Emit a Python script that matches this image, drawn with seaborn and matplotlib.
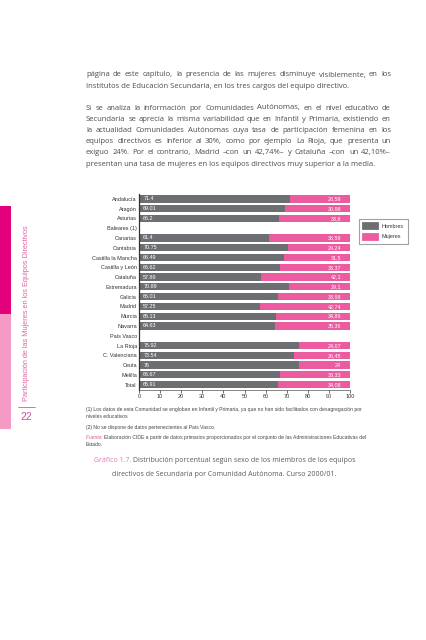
import matplotlib
matplotlib.use("Agg")
import matplotlib.pyplot as plt
from matplotlib.font_manager import FontProperties
from matplotlib.patches import Rectangle, Patch
from matplotlib.lines import Line2D
import seaborn as sns
import pandas as pd
import numpy as np

# ---------------- data ----------------
comunidades = ["Andalucía", "Aragón", "Asturias", "Baleares (1)", "Canarias", "Cantabria",
               "Castilla la Mancha", "Castilla y León", "Cataluña", "Extremadura", "Galicia",
               "Madrid", "Murcia", "Navarra", "País Vasco", "La Rioja", "C. Valenciana",
               "Ceuta", "Melilla", "Total"]
hombres = [71.4, 69.01, 66.2, np.nan, 61.4, 70.75, 68.49, 66.62, 57.89, 70.89, 66.01,
           57.25, 65.13, 64.63, np.nan, 75.92, 73.54, 76, 66.67, 65.91]
mujeres = [28.59, 30.98, 33.8, np.nan, 38.59, 29.24, 31.5, 33.37, 42.1, 29.1, 33.98,
           42.74, 34.86, 35.36, np.nan, 24.07, 26.45, 24, 33.33, 34.08]
x_ticks = [0, 10, 20, 30, 40, 50, 60, 70, 80, 90, 100]
series_names = ["Hombres", "Mujeres"]

GREY = "#6D6E71"
PINK = "#EC5A9F"
TEXT = "#4D4D4D"

W, H = 426, 640
sns.set_theme(style="white")
plt.rcParams["font.family"] = ["Liberation Sans", "DejaVu Sans"]

fig = plt.figure(figsize=(W / 100, H / 100), dpi=100)
fig.patch.set_facecolor("white")
r = fig.canvas.get_renderer()


def fx(px):
    return px / W


def fy(py):
    return 1 - py / H


def width_of(s, prop):
    return r.get_text_width_height_descent(s, prop, ismath=False)[0]


# ---------------- chart ----------------
df = pd.DataFrame({"Comunidad": comunidades, "Hombres": hombres, "Mujeres": mujeres})
df["Suma"] = df["Hombres"] + df["Mujeres"]

ax = fig.add_axes([fx(139), fy(389.5), 211 / W, 195.5 / H])
sns.barplot(data=df, y="Comunidad", x="Suma", order=comunidades, color=PINK,
            saturation=1, width=0.74, linewidth=0, orient="h", ax=ax, errorbar=None)
sns.barplot(data=df, y="Comunidad", x="Hombres", order=comunidades, color=GREY,
            saturation=1, width=0.74, linewidth=0, orient="h", ax=ax, errorbar=None)

ax.set_xlim(0, 100)
ax.set_xticks(x_ticks)
ax.set_xticklabels([str(t) for t in x_ticks])
ax.set_xlabel("")
ax.set_ylabel("")
ax.tick_params(axis="x", labelsize=4.0, colors="#333333", length=2, width=0.5, pad=1.5,
               direction="out", bottom=True)
ax.tick_params(axis="y", labelsize=3.95, colors="#333333", length=0, pad=1.5)
for s in ["top", "right"]:
    ax.spines[s].set_visible(False)
ax.spines["left"].set_color("#333333")
ax.spines["left"].set_linewidth(0.9)
ax.spines["bottom"].set_color("#555555")
ax.spines["bottom"].set_linewidth(0.5)
ax.set_facecolor("white")

lab_prop = dict(fontsize=3.9, color="white", va="center")
for i, (h, m) in enumerate(zip(hombres, mujeres)):
    if np.isnan(h):
        continue
    ax.text(2, i, f"{h:g}", ha="left", **lab_prop)
    ax.text(95.8, i, f"{m:g}".replace(".", ","), ha="right", **lab_prop)

handles = [Patch(facecolor=GREY, edgecolor=GREY, linewidth=2.0, joinstyle="round"),
           Patch(facecolor=PINK, edgecolor=PINK, linewidth=2.0, joinstyle="round")]
leg = fig.legend(handles, series_names, loc="upper left",
                 bbox_to_anchor=(fx(359), fy(219)), borderaxespad=0,
                 frameon=True, fancybox=False, fontsize=3.9, handlelength=2.5,
                 handleheight=1.0, handletextpad=0.8, borderpad=0.8, labelspacing=1.0)
leg.get_frame().set_edgecolor("#8A8A8A")
leg.get_frame().set_linewidth(0.8)
for t in leg.get_texts():
    t.set_color("#333333")

# ---------------- body text ----------------
PFAM = ["Open Sans", "DejaVu Sans"]
para_lines = [
    ("página de este capítulo, la presencia de las mujeres disminuye visiblemente, en los", True, 75),
    ("Institutos de Educación Secundaria, en los tres cargos del equipo directivo.", False, 87),
    ("Si se analiza la información por Comunidades Autónomas, en el nivel educativo de", True, 108),
    ("Secundaria se aprecia la misma variabilidad que en Infantil y Primaria, existiendo en", True, 119.2),
    ("la actualidad Comunidades Autónomas cuya tasa de participación femenina en los", True, 130.4),
    ("equipos directivos es inferior al 30%, como por ejemplo La Rioja, que presenta un", True, 141.6),
    ("exiguo 24%. Por el contrario, Madrid –con un 42,74%– y Cataluña –con un 42,10%–", True, 152.8),
    ("presentan una tasa de mujeres en los equipos directivos muy superior a la media.", False, 164),
]
PX0, PX1 = 86, 391
probe = FontProperties(family=PFAM, size=10)
maxw = max(width_of(t, probe) for t, j, y in para_lines)
psize = 10 * (PX1 - PX0) * 0.985 / maxw
pprop = FontProperties(family=PFAM, size=psize)
for text, just, y in para_lines:
    words = text.split(" ")
    if not just:
        fig.text(fx(PX0), fy(y), text, fontproperties=pprop, color=TEXT, va="center", ha="left")
        continue
    ws = [width_of(w, pprop) for w in words]
    gap = (PX1 - PX0 - sum(ws)) / (len(words) - 1)
    x = PX0
    for w, wd in zip(words, ws):
        fig.text(fx(x), fy(y), w, fontproperties=pprop, color=TEXT, va="center", ha="left")
        x += wd + gap

# ---------------- footnotes ----------------
FFAM = ["Liberation Sans", "DejaVu Sans"]
fn1 = "(1) Los datos de esta Comunidad se engloban en Infantil y Primaria, ya que no han sido facilitados con desagregación por"
fsize = 10 * (361 - 86) / width_of(fn1, FontProperties(family=FFAM, size=10))
fprop = FontProperties(family=FFAM, size=fsize)
FC = "#444444"
fig.text(fx(86), fy(410), fn1, fontproperties=fprop, color=FC, va="center")
fig.text(fx(86), fy(417), "niveles educativos", fontproperties=fprop, color=FC, va="center")
fig.text(fx(86), fy(427.5), "(2) No se dispone de datos pertenecientes al País Vasco.",
         fontproperties=fprop, color=FC, va="center")
fuente = "Fuente: "
fprop_i = FontProperties(family=FFAM, size=fsize, style="italic")
fig.text(fx(86), fy(437.5), fuente, fontproperties=fprop_i, color="#E0589E", va="center")
fw = width_of(fuente, fprop_i)
fig.text(fx(86 + fw), fy(437.5),
         "Elaboración CIDE a partir de datos primarios proporcionados por el conjunto de las Administraciones Educativas del",
         fontproperties=fprop, color=FC, va="center")
fig.text(fx(86), fy(444.5), "Estado.", fontproperties=fprop, color=FC, va="center")

# ---------------- caption ----------------
CFAM = ["Liberation Sans Narrow", "Open Sans", "DejaVu Sans"]
cap_a = "Gráfico 1.7. "
cap_b = "Distribución porcentual según sexo de los miembros de los equipos"
cap_c = "directivos de Secundaria por Comunidad Autónoma. Curso 2000/01."
cp = FontProperties(family=CFAM, size=10)
csize = 10 * (354 - 94) / width_of(cap_a + cap_b, cp)
cprop = FontProperties(family=CFAM, size=csize)
fig.text(fx(94), fy(461), cap_a, fontproperties=cprop, color="#E27BB2", va="center")
aw = width_of(cap_a, cprop)
fig.text(fx(94 + aw), fy(461), cap_b, fontproperties=cprop, color="#5A5A5A", va="center")
fig.text(fx(112), fy(475), cap_c, fontproperties=cprop, color="#5A5A5A", va="center")

# ---------------- page side decoration ----------------
fig.patches.append(Rectangle((0, fy(314)), fx(11), (314 - 206) / H, transform=fig.transFigure,
                             facecolor="#E4007C", edgecolor="none", zorder=0))
fig.patches.append(Rectangle((0, fy(429)), fx(11), (429 - 314) / H, transform=fig.transFigure,
                             facecolor="#F39AC5", edgecolor="none", zorder=0))
vt = "Participación de las Mujeres en los Equipos Directivos"
vp = FontProperties(family=["Liberation Sans", "DejaVu Sans"], size=10)
vsize = 10 * (402 - 224) / width_of(vt, vp)
fig.text(fx(27), fy(313), vt, rotation=90, ha="center", va="center", color="#E066A6",
         fontproperties=FontProperties(family=["Liberation Sans", "DejaVu Sans"], size=vsize))
fig.add_artist(Line2D([fx(18), fx(35)], [fy(407), fy(407)], transform=fig.transFigure,
                      color="#D9559C", linewidth=0.6))
fig.text(fx(26.5), fy(417), "22", ha="center", va="center", color="#C9529A",
         fontproperties=FontProperties(family=["Liberation Sans", "DejaVu Sans"], size=7.5))

fig.savefig("out.png", dpi=100, facecolor="white")
